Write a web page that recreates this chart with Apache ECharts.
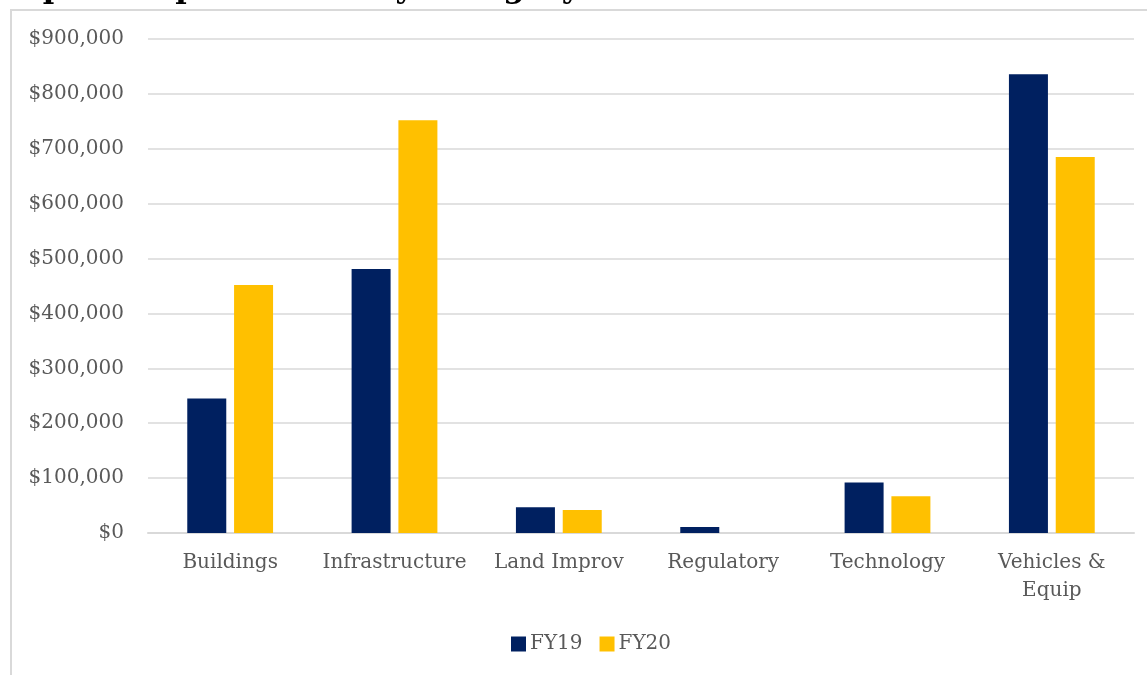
<!DOCTYPE html>
<html>
<head>
<meta charset="utf-8">
<script src="https://cdn.jsdelivr.net/npm/echarts@6/dist/echarts.min.js"></script>
<style>
  html, body { margin: 0; padding: 0; background: #fff; }
  #chart { width: 1147px; height: 675px; }
</style>
</head>
<body>
<div id="chart"></div>
<script>
const categories = ['Buildings', 'Infrastructure', 'Land Improv', 'Regulatory', 'Technology', 'Vehicles &\nEquip']
const fy19 = [245000, 481000, 47000, 11000, 92000, 836000]
const fy20 = [452000, 752000, 42000, 0, 67000, 685000]
const yTicks = { min: 0, max: 900000, interval: 100000 }

const font = '"DejaVu Serif", serif'
const textColor = '#595959'

const chart = echarts.init(document.getElementById('chart'))

const option = {
  animation: false,
  textStyle: { fontFamily: font },
  graphic: [
    {
      type: 'rect',
      shape: { x: 11, y: 10, width: 1160, height: 700 },
      style: { fill: 'none', stroke: '#d9d9d9', lineWidth: 2 },
      silent: true,
    },
    {
      // title sits mostly above the visible area
      type: 'text',
      x: -2,
      y: 4,
      style: {
        text: 'Capital Expenditures by Category',
        font: 'bold 31px "DejaVu Serif", serif',
        fill: '#000',
        verticalAlign: 'bottom',
      },
    },
  ],
  legend: {
    bottom: 16,
    left: 506,
    itemWidth: 15,
    itemHeight: 15,
    itemGap: 17,
    icon: 'rect',
    textStyle: { fontFamily: font, fontSize: 20, color: textColor, padding: [0, 0, 0, -1] },
    data: ['FY19', 'FY20'],
  },
  grid: {
    left: 148,
    right: 13,
    top: 39,
    bottom: 142,
    containLabel: false,
  },
  xAxis: {
    type: 'category',
    data: categories,
    axisLine: { lineStyle: { color: '#d9d9d9', width: 2 } },
    axisTick: { show: false },
    axisLabel: {
      fontFamily: font,
      fontSize: 20,
      color: textColor,
      margin: 16,
      lineHeight: 28,
      interval: 0,
    },
  },
  yAxis: {
    type: 'value',
    min: yTicks.min,
    max: yTicks.max,
    interval: yTicks.interval,
    axisLine: { show: false },
    axisTick: { show: false },
    splitLine: { lineStyle: { color: '#d9d9d9', width: 1.5 } },
    axisLabel: {
      fontFamily: font,
      fontSize: 20,
      color: textColor,
      margin: 24,
      formatter: (v) => '$' + v.toLocaleString('en-US'),
    },
  },
  series: [
    {
      name: 'FY19',
      type: 'bar',
      data: fy19,
      barWidth: 39,
      barGap: '20%',
      itemStyle: { color: '#002060' },
    },
    {
      name: 'FY20',
      type: 'bar',
      data: fy20,
      barWidth: 39,
      itemStyle: { color: '#FFC000' },
    },
  ],
}

chart.setOption(option)
</script>
</body>
</html>
